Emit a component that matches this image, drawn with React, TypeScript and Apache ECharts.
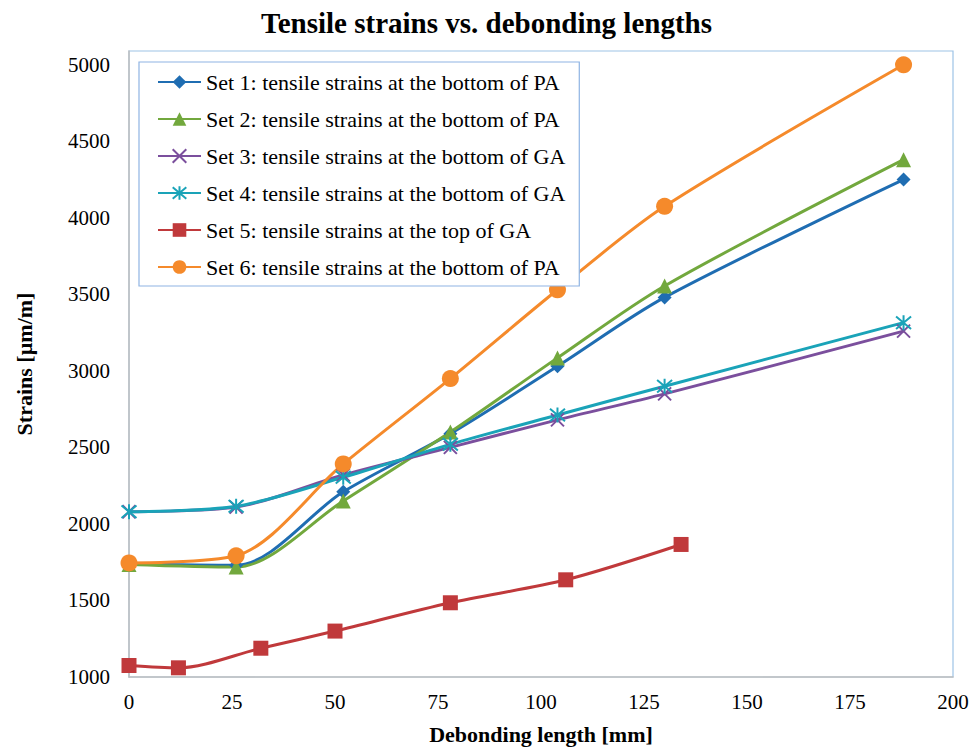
import React, { useEffect, useRef } from "react";
import * as echarts from "echarts";

const chartTitle = "Tensile strains vs. debonding lengths";
const xAxisName = "Debonding length [mm]";
const yAxisName = "Strains [µm/m]";

const seriesNames = [
  "Set 1: tensile strains at the bottom of PA",
  "Set 2: tensile strains at the bottom of PA",
  "Set 3: tensile strains at the bottom of GA",
  "Set 4: tensile strains at the bottom of GA",
  "Set 5: tensile strains at the top of GA",
  "Set 6: tensile strains at the bottom of PA",
];

// Debonding lengths [mm]
const xMain = [0, 26, 52, 78, 104, 130, 188];
const xSet5 = [0, 12, 32, 50, 78, 106, 134];

// Strains [µm/m]
const set1 = [1740, 1730, 2210, 2590, 3030, 3480, 4250];
const set2 = [1735, 1718, 2150, 2600, 3085, 3555, 4380];
const set3 = [2080, 2110, 2320, 2500, 2680, 2850, 3260];
const set4 = [2080, 2115, 2305, 2520, 2712, 2900, 3315];
const set5 = [1075, 1060, 1188, 1300, 1485, 1635, 1866];
const set6 = [1745, 1792, 2392, 2950, 3530, 4075, 5000];

const xTicks = { min: 0, max: 200, interval: 25 };
const yTicks = { min: 1000, max: 5090, interval: 500 };

const colors = ["#1f6db2", "#72a83d", "#7b4f9d", "#1aa3b8", "#c0393b", "#f58a2b"];
const symbols = [
  "diamond",
  "triangle",
  "path://M0,0L10,10M10,0L0,10",
  "path://M0,0L10,10M10,0L0,10M5,-1L5,11",
  "rect",
  "circle",
];
const symbolSizes = [14, 15, 13, 15, 15, 17];

const FONT = "'Liberation Serif', 'Times New Roman', serif";

export default function App() {
  const ref = useRef<HTMLDivElement>(null);

  useEffect(() => {
    const chart = echarts.init(ref.current!, null, { renderer: "svg" });
    const xs = [xMain, xMain, xMain, xMain, xSet5, xMain];
    const ys = [set1, set2, set3, set4, set5, set6];

    const series = seriesNames.map((name, i) => {
      const isPath = symbols[i].startsWith("path://");
      return {
        name,
        type: "line",
        smooth: 0.3,
        data: xs[i].map((x, j) => [x, ys[i][j]]),
        symbol: symbols[i],
        symbolSize: symbolSizes[i],
        showAllSymbol: true,
        lineStyle: { color: colors[i], width: 3 },
        itemStyle: {
          color: colors[i],
          borderColor: colors[i],
          borderWidth: isPath ? 2 : 0,
        },
        emphasis: { disabled: true },
      };
    });

    chart.setOption({
      animation: false,
      backgroundColor: "#ffffff",
      color: colors,
      title: {
        text: chartTitle,
        left: "center",
        top: 3,
        textStyle: {
          fontFamily: FONT,
          fontWeight: "bold",
          fontSize: 29,
          color: "#000",
        },
      },
      legend: {
        orient: "vertical",
        left: 139,
        top: 62,
        padding: [9, 14, 8, 18],
        backgroundColor: "#ffffff",
        borderColor: "#8fb4e3",
        borderWidth: 1.2,
        borderRadius: 0,
        itemWidth: 43,
        itemHeight: 17,
        itemGap: 15,
        textStyle: {
          fontFamily: FONT,
          fontSize: 22,
          lineHeight: 22,
          color: "#000",
        },
        data: seriesNames,
      },
      grid: {
        left: 129,
        right: 20,
        top: 51,
        bottom: 70,
        show: true,
        borderColor: "#9dc3e6",
        borderWidth: 1.2,
        backgroundColor: "transparent",
      },
      xAxis: {
        type: "value",
        min: xTicks.min,
        max: xTicks.max,
        interval: xTicks.interval,
        name: xAxisName,
        nameLocation: "middle",
        nameGap: 46,
        nameTextStyle: {
          fontFamily: FONT,
          fontWeight: "bold",
          fontSize: 22,
          color: "#000",
        },
        axisLine: { show: true, lineStyle: { color: "#bfbfbf", width: 1.5 } },
        axisTick: { show: false },
        splitLine: { show: false },
        axisLabel: {
          fontFamily: FONT,
          fontSize: 21,
          color: "#000",
          margin: 14,
          formatter: (v: number) => String(v),
        },
      },
      yAxis: {
        type: "value",
        min: yTicks.min,
        max: yTicks.max,
        interval: yTicks.interval,
        name: yAxisName,
        nameLocation: "middle",
        nameGap: 94,
        nameTextStyle: {
          fontFamily: FONT,
          fontWeight: "bold",
          fontSize: 22,
          color: "#000",
        },
        axisLine: { show: true, lineStyle: { color: "#bfbfbf", width: 1.5 } },
        axisTick: { show: false },
        splitLine: { show: false },
        axisLabel: {
          fontFamily: FONT,
          fontSize: 21,
          color: "#000",
          margin: 19,
          showMaxLabel: false,
          formatter: (v: number) => String(v),
        },
      },
      series,
    });

    return () => chart.dispose();
  }, []);

  return (
    <div
      ref={ref}
      style={{
        position: "fixed",
        left: 0,
        top: 0,
        width: 973,
        height: 750,
        background: "#fff",
      }}
    />
  );
}
